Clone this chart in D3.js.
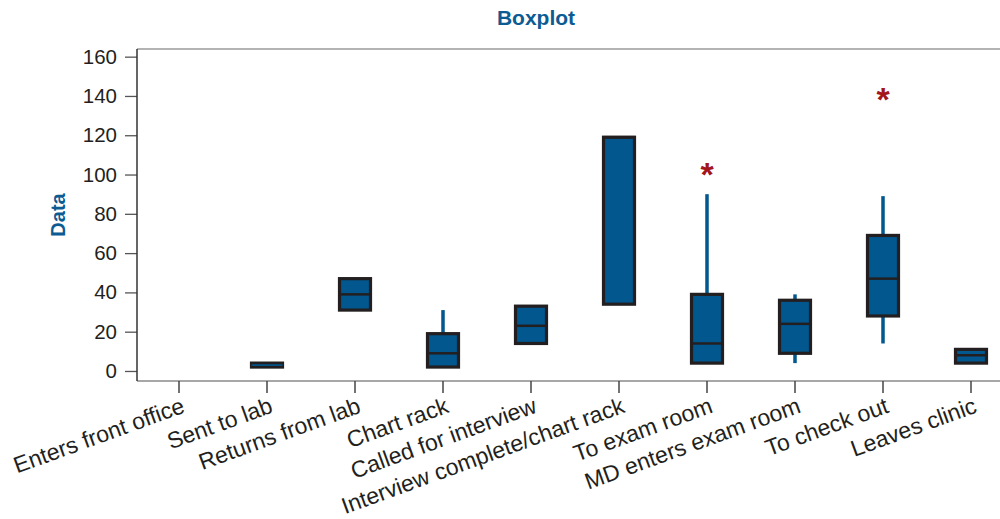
<!DOCTYPE html>
<html>
<head>
<meta charset="utf-8">
<script src="https://cdn.jsdelivr.net/npm/d3@7"></script>
<style>
  html, body { margin: 0; padding: 0; background: #fff; }
  svg { display: block; }
</style>
</head>
<body>
<svg id="chart" width="1000" height="519"></svg>
<script>
// ---- data ----
const categories = ["Enters front office", "Sent to lab", "Returns from lab", "Chart rack",
  "Called for interview", "Interview complete/chart rack", "To exam room",
  "MD enters exam room", "To check out", "Leaves clinic"];
const whiskerLow  = [null, 2, 31, 2, 14, 34, 4, 4, 14, 4];
const q1Values    = [null, 2, 31, 2, 14, 34, 4, 9, 28, 4];
const medianValues= [null, 3, 39, 9, 23, 119, 14, 24, 47, 8];
const q3Values    = [null, 4, 47, 19, 33, 119, 39, 36, 69, 11];
const whiskerHigh = [null, 4, 47, 31, 33, 119, 90, 39, 89, 11];
const outliers    = [[], [], [], [], [], [], [102], [], [140], []];
const yTicks = [0, 20, 40, 60, 80, 100, 120, 140, 160];

const svg = d3.select("#chart");
const frame = { left: 137, top: 49, bottom: 381, right: 1015 };

const x = d3.scaleBand().domain(categories).range([135, 1015]);
const y = d3.scaleLinear().domain([-5.1, 163.9]).range([frame.bottom, frame.top]);

const boxW = 31;
const blue = "#01578e", dark = "#231f20", titleBlue = "#0d5b93";
const font = "'Liberation Sans', Arial, sans-serif";

// frame
svg.append("line").attr("x1", frame.left).attr("x2", frame.right).attr("y1", frame.top).attr("y2", frame.top)
  .attr("stroke", "#9a9a9a").attr("stroke-width", 1.5);
svg.append("line").attr("x1", frame.left).attr("x2", frame.right).attr("y1", frame.bottom).attr("y2", frame.bottom)
  .attr("stroke", "#8a8a8a").attr("stroke-width", 1.5);

// y axis
const yAxis = d3.axisLeft(y).tickValues(yTicks).tickSize(12).tickPadding(8);
const gy = svg.append("g").attr("transform", `translate(${frame.left},0)`).call(yAxis);
gy.select(".domain").remove();
gy.append("line").attr("x1", 0).attr("x2", 0).attr("y1", frame.top).attr("y2", frame.bottom)
  .attr("stroke", "#333").attr("stroke-width", 1.5);
gy.selectAll(".tick line").attr("stroke", "#555").attr("stroke-width", 1.3);
gy.selectAll(".tick text").attr("fill", "#231f20")
  .style("font-family", font).style("font-size", "20.5px");

// x axis
const xAxis = d3.axisBottom(x).tickSize(12).tickSizeOuter(0);
const gx = svg.append("g").attr("transform", `translate(0,${frame.bottom})`).call(xAxis);
gx.select(".domain").remove();
gx.selectAll(".tick line").attr("stroke", "#444").attr("stroke-width", 1.5);
gx.selectAll(".tick text")
  .attr("fill", "#231f20")
  .style("font-family", font).style("font-size", "23px")
  .attr("text-anchor", "end")
  .attr("dy", null).attr("y", null)
  .attr("transform", "translate(7,31) rotate(-20)");

// boxes
const cx = c => x(c) + x.bandwidth() / 2;
categories.forEach((c, i) => {
  if (q1Values[i] === null) return;
  const g = svg.append("g");
  // whiskers
  g.append("line").attr("x1", cx(c)).attr("x2", cx(c))
    .attr("y1", y(whiskerHigh[i])).attr("y2", y(q3Values[i]))
    .attr("stroke", blue).attr("stroke-width", 3.5);
  g.append("line").attr("x1", cx(c)).attr("x2", cx(c))
    .attr("y1", y(q1Values[i])).attr("y2", y(whiskerLow[i]))
    .attr("stroke", blue).attr("stroke-width", 3.5);
  // box
  g.append("rect").attr("x", cx(c) - boxW / 2).attr("width", boxW)
    .attr("y", y(q3Values[i])).attr("height", y(q1Values[i]) - y(q3Values[i]))
    .attr("fill", blue).attr("stroke", dark).attr("stroke-width", 3.2);
  // median
  g.append("line").attr("x1", cx(c) - boxW / 2).attr("x2", cx(c) + boxW / 2)
    .attr("y1", y(medianValues[i])).attr("y2", y(medianValues[i]))
    .attr("stroke", i === 1 ? blue : dark).attr("stroke-width", i === 1 ? 1.5 : 2.5);
  // outliers
  outliers[i].forEach(v => {
    g.append("text").attr("x", cx(c)).attr("y", y(v) + 15)
      .attr("text-anchor", "middle").attr("fill", "#a3151b")
      .style("font-family", font).style("font-weight", "bold")
      .style("font-size", "34px").text("*");
  });
});

// title
svg.append("text").attr("x", 536).attr("y", 25).attr("text-anchor", "middle")
  .attr("fill", titleBlue).style("font-family", font)
  .style("font-weight", "bold").style("font-size", "21px").text("Boxplot");

// y label
svg.append("text").attr("transform", "translate(65,215) rotate(-90)").attr("text-anchor", "middle")
  .attr("fill", titleBlue).style("font-family", font)
  .style("font-weight", "bold").style("font-size", "20px").text("Data");
</script>
</body>
</html>
